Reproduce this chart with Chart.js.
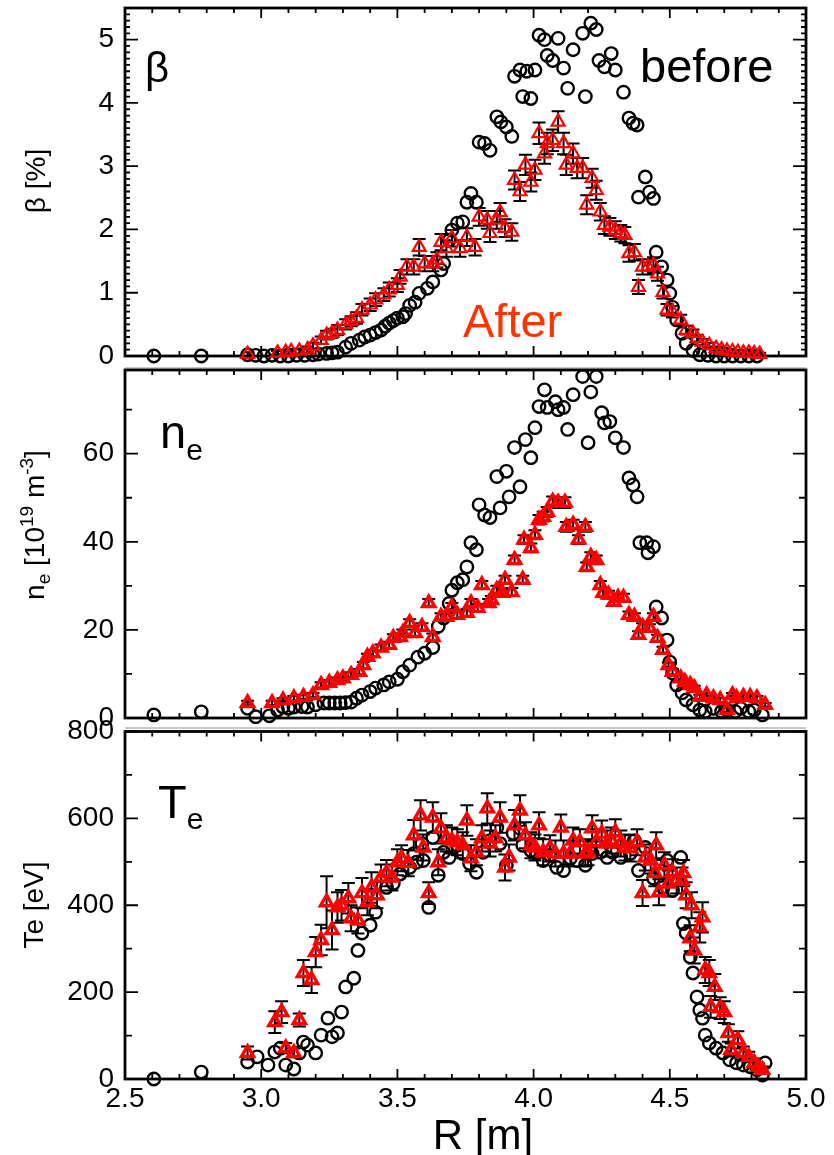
<!DOCTYPE html>
<html>
<head>
<meta charset="utf-8">
<script src="https://cdn.jsdelivr.net/npm/chart.js@4.4.1/dist/chart.umd.min.js"></script>
<style>
html,body{margin:0;padding:0;background:#fff;}
#wrap{position:relative;width:834px;height:1155px;overflow:hidden;}
#wrap canvas{position:absolute;left:0;top:0;}
</style>
</head>
<body>
<div id="wrap">
<canvas id="c1" width="834" height="1155"></canvas>
<canvas id="c2" width="834" height="1155"></canvas>
<canvas id="c3" width="834" height="1155"></canvas>
</div>
<script>
// ---------- tick labels ----------
const xTicks = [2.5, 3.0, 3.5, 4.0, 4.5, 5.0];
const betaTicks = [0, 1, 2, 3, 4, 5];
const neTicks = [0, 20, 40, 60];
const teTicks = [0, 200, 400, 600, 800];

// ---------- beta [%] ----------
const betaBeforeR = [2.606,2.78,2.95,2.98,3.01,3.04,3.07,3.10,3.13,3.16,
  3.19,3.21,3.24,3.26,3.28,3.31,3.33,3.36,3.38,3.40,
  3.42,3.44,3.455,3.47,3.485,3.50,3.52,3.53,3.545,3.565,
  3.58,3.61,3.63,3.66,3.67,3.69,3.70,3.72,3.74,3.755,
  3.77,3.79,3.80,3.82,3.84,3.865,3.88,3.90,3.92,3.93,
  3.95,3.96,3.975,3.99,4.005,4.02,4.04,4.05,4.07,4.09,
  4.11,4.125,4.145,4.18,4.19,4.21,4.23,4.24,4.26,4.285,
  4.30,4.33,4.35,4.365,4.38,4.385,4.41,4.425,4.44,4.45,
  4.47,4.49,4.50,4.51,4.525,4.545,4.56,4.585,4.61,4.64,
  4.67,4.70,4.73,4.76,4.79,4.82];
const betaBefore = [0,0,0.02,0.01,0,0.01,0,0,0.01,0.01,
  0.02,0.03,0.04,0.05,0.06,0.14,0.2,0.25,0.3,0.33,
  0.37,0.41,0.47,0.52,0.56,0.6,0.62,0.67,0.8,0.85,
  0.99,1.07,1.17,1.36,1.46,1.83,1.99,2.1,2.12,2.43,
  2.57,2.43,3.38,3.36,3.25,3.78,3.70,3.62,3.47,4.42,
  4.52,4.10,4.50,4.07,4.52,5.07,5.00,4.75,4.67,5.02,
  4.55,4.23,4.84,5.10,4.10,5.26,5.16,4.67,4.57,4.78,
  4.52,4.17,3.76,3.68,3.65,2.51,2.83,2.59,2.49,1.64,
  1.41,1.2,0.99,0.77,0.57,0.36,0.2,0.09,0.02,0.01,
  0,0,0,0,0,0];
const betaAfterR = [2.95,3.06,3.09,3.11,3.14,3.17,3.19,3.22,3.24,3.26,
  3.28,3.31,3.33,3.35,3.37,3.40,3.42,3.45,3.47,3.50,
  3.51,3.535,3.56,3.58,3.60,3.63,3.645,3.66,3.68,3.70,
  3.73,3.755,3.785,3.80,3.83,3.84,3.865,3.877,3.895,3.92,
  3.93,3.95,3.97,3.99,4.005,4.02,4.04,4.05,4.07,4.09,
  4.11,4.12,4.145,4.16,4.18,4.195,4.215,4.23,4.245,4.26,
  4.28,4.30,4.32,4.335,4.35,4.37,4.385,4.40,4.42,4.44,
  4.455,4.475,4.49,4.51,4.54,4.56,4.585,4.60,4.62,4.645,
  4.67,4.69,4.71,4.73,4.75,4.77,4.79,4.81,4.83];
const betaAfter = [0.03,0.05,0.06,0.07,0.08,0.10,0.16,0.25,0.33,0.36,
  0.41,0.50,0.55,0.60,0.73,0.81,0.89,0.97,1.05,1.12,
  1.25,1.41,1.41,1.72,1.46,1.46,1.52,1.80,1.70,1.86,
  1.70,1.88,1.72,2.20,2.15,1.94,2.15,2.27,2.02,1.96,
  2.78,2.60,3.02,2.75,2.94,3.52,3.20,3.36,3.41,3.70,
  3.36,3.02,3.20,2.97,2.97,2.39,2.81,2.62,2.28,2.07,
  2.04,1.99,1.94,1.91,1.62,1.64,1.09,1.41,1.41,1.44,
  1.30,1.01,0.73,0.70,0.57,0.41,0.36,0.28,0.22,0.17,
  0.12,0.10,0.08,0.07,0.06,0.05,0.05,0.04,0.03];
const betaAfterErr = [0.03,0.03,0.03,0.04,0.04,0.05,0.05,0.06,0.07,0.07,
  0.08,0.08,0.08,0.09,0.09,0.10,0.10,0.10,0.11,0.11,
  0.11,0.12,0.12,0.13,0.12,0.12,0.12,0.13,0.13,0.13,
  0.13,0.14,0.13,0.14,0.14,0.14,0.14,0.15,0.14,0.14,
  0.15,0.15,0.16,0.15,0.16,0.17,0.16,0.17,0.17,0.17,
  0.17,0.16,0.16,0.16,0.16,0.15,0.15,0.15,0.14,0.14,
  0.14,0.14,0.13,0.13,0.13,0.13,0.11,0.12,0.12,0.12,
  0.11,0.10,0.09,0.09,0.08,0.07,0.06,0.05,0.05,0.04,
  0.03,0.03,0.03,0.02,0.02,0.02,0.02,0.02,0.02];

// ---------- n_e [1e19 m^-3] ----------
const neBeforeR = [2.606,2.78,2.95,2.98,3.03,3.06,3.08,3.10,3.12,3.15,
  3.17,3.20,3.23,3.25,3.27,3.29,3.31,3.33,3.35,3.37,
  3.40,3.42,3.45,3.47,3.50,3.52,3.545,3.575,3.60,3.63,
  3.65,3.67,3.69,3.70,3.72,3.74,3.755,3.77,3.79,3.80,
  3.82,3.84,3.865,3.877,3.90,3.91,3.93,3.95,3.97,3.99,
  4.005,4.02,4.04,4.05,4.08,4.09,4.11,4.125,4.145,4.18,
  4.20,4.21,4.23,4.25,4.26,4.28,4.30,4.33,4.35,4.365,
  4.38,4.39,4.415,4.42,4.44,4.45,4.47,4.49,4.50,4.51,
  4.525,4.545,4.56,4.585,4.61,4.63,4.66,4.69,4.71,4.74,
  4.76,4.79,4.81,4.84];
const neBefore = [0.7,1.4,2.2,0.3,0.5,1.8,2.5,2.2,2.5,2.6,
  2.5,3.0,3.4,3.4,3.4,3.4,3.5,3.6,4.5,5.2,
  6.0,6.8,7.5,8.2,8.8,10.5,12.0,13.8,14.7,16.0,
  20.8,22.7,26.0,29.0,30.7,31.4,34.3,39.8,38.2,48.4,
  46.1,45.5,54.8,47.7,56.0,50.2,61.4,52.5,63.2,59.1,
  65.9,70.7,74.5,70.5,71.8,70.0,70.5,65.5,73.4,77.5,
  62.5,74.0,77.5,69.3,67.0,67.3,63.6,61.4,54.5,52.9,
  50.2,39.8,39.8,37.5,38.9,25.2,22.7,17.7,12.7,10.2,
  7.5,5.7,4.1,3.0,1.8,1.5,2.2,1.5,1.8,1.5,
  2.2,1.5,1.8,0.7];
const neAfterR = [2.95,3.04,3.08,3.12,3.155,3.19,3.22,3.25,3.28,3.30,
  3.33,3.36,3.375,3.39,3.41,3.44,3.47,3.485,3.51,3.52,
  3.545,3.565,3.59,3.615,3.63,3.66,3.68,3.70,3.72,3.755,
  3.77,3.795,3.81,3.835,3.845,3.865,3.885,3.895,3.92,3.93,
  3.96,3.965,3.99,4.005,4.02,4.035,4.05,4.07,4.09,4.115,
  4.12,4.145,4.165,4.19,4.195,4.21,4.23,4.245,4.255,4.275,
  4.295,4.31,4.33,4.35,4.37,4.385,4.40,4.425,4.44,4.455,
  4.475,4.495,4.51,4.54,4.555,4.575,4.59,4.61,4.635,4.66,
  4.685,4.71,4.73,4.745,4.77,4.795,4.82,4.85];
const neAfter = [3.4,3.4,4.0,4.5,4.8,5.2,7.5,8.0,8.6,9.0,
  9.8,10.5,12.0,13.9,14.7,16.0,16.6,18.2,18.4,19.3,
  21.6,19.3,20.7,26.1,18.4,23.0,23.0,25.2,23.4,23.9,
  26.1,25.0,30.2,26.1,26.8,29.1,28.4,31.4,28.6,35.9,
  31.4,40.5,38.6,41.6,45.0,45.7,46.8,49.1,48.9,48.9,
  43.4,43.9,40.5,43.4,34.3,36.6,35.9,30.2,28.4,28.0,
  26.4,27.3,27.3,23.4,23.0,18.9,20.7,20.5,23.0,18.2,
  15.5,12.0,10.5,9.0,8.2,7.5,6.8,4.8,5.2,4.5,
  4.1,1.8,5.2,4.5,4.8,4.8,4.5,3.0];
const neAfterErr = [0.5,0.5,0.5,0.5,0.5,0.5,0.6,0.6,0.6,0.6,
  0.6,0.6,0.7,0.7,0.7,0.7,0.7,0.8,0.8,0.8,
  0.8,0.8,0.8,0.9,0.8,0.8,0.8,0.9,0.8,0.8,
  0.9,0.9,0.9,0.9,0.9,0.9,0.9,0.9,0.9,1.0,
  0.9,1.0,1.0,1.0,1.1,1.1,1.1,1.2,1.2,1.2,
  1.1,1.1,1.0,1.1,1.0,1.0,1.0,0.9,0.9,0.9,
  0.9,0.9,0.9,0.8,0.8,0.8,0.8,0.8,0.8,0.7,
  0.7,0.6,0.6,0.6,0.5,0.5,0.5,0.5,0.5,0.5,
  0.5,0.4,0.5,0.5,0.5,0.5,0.5,0.4];

// ---------- Te [eV] ----------
const teBeforeR = [2.606,2.78,2.95,2.985,3.025,3.05,3.07,3.09,3.12,3.14,
  3.155,3.17,3.20,3.22,3.245,3.26,3.28,3.295,3.31,3.34,
  3.355,3.37,3.40,3.42,3.46,3.485,3.51,3.545,3.56,3.57,
  3.59,3.595,3.615,3.63,3.65,3.67,3.69,3.72,3.74,3.765,
  3.79,3.815,3.84,3.865,3.877,3.90,3.925,3.95,3.96,3.99,
  4.01,4.035,4.06,4.085,4.11,4.135,4.16,4.19,4.215,4.245,
  4.27,4.29,4.32,4.355,4.37,4.385,4.41,4.44,4.475,4.49,
  4.51,4.54,4.55,4.56,4.575,4.585,4.60,4.61,4.62,4.63,
  4.645,4.67,4.695,4.72,4.745,4.77,4.795,4.82,4.84,4.85];
const teBefore = [0,16,39,51,32,62,71,32,23,60,
  85,78,60,101,140,97,106,154,212,232,
  296,336,354,384,441,450,472,487,519,499,
  542,503,395,556,469,522,510,538,519,496,
  476,522,549,579,542,492,565,577,538,526,
  519,503,515,487,480,508,503,492,519,522,
  510,522,510,519,549,480,533,462,441,503,
  434,510,358,336,281,244,189,159,140,101,
  83,71,60,44,37,32,28,21,9,37];
const teAfterR = [2.95,3.05,3.075,3.09,3.12,3.14,3.155,3.185,3.20,3.22,
  3.24,3.26,3.28,3.295,3.32,3.33,3.355,3.37,3.39,3.405,
  3.425,3.44,3.46,3.48,3.50,3.515,3.54,3.56,3.585,3.595,
  3.615,3.63,3.65,3.66,3.68,3.70,3.72,3.74,3.755,3.77,
  3.79,3.81,3.83,3.84,3.86,3.877,3.895,3.91,3.93,3.95,
  3.97,3.99,4.005,4.02,4.035,4.06,4.08,4.10,4.11,4.135,
  4.145,4.17,4.19,4.20,4.215,4.23,4.25,4.27,4.285,4.30,
  4.32,4.335,4.355,4.38,4.40,4.41,4.43,4.445,4.45,4.46,
  4.48,4.495,4.51,4.525,4.545,4.55,4.56,4.575,4.58,4.59,
  4.61,4.62,4.63,4.645,4.65,4.665,4.685,4.70,4.715,4.725,
  4.75,4.77,4.79,4.81,4.825,4.84];
const teAfter = [60,131,154,71,60,136,244,228,292,320,
  407,343,395,400,416,370,365,428,407,441,
  423,464,474,464,499,508,497,561,607,533,
  428,602,499,577,554,549,545,538,595,508,
  522,554,623,542,554,602,487,510,584,618,
  561,538,533,584,522,531,519,579,519,519,
  549,545,519,522,577,545,565,542,549,568,
  542,533,531,545,428,510,503,474,538,430,
  492,450,476,457,457,474,423,324,400,296,
  349,372,251,244,166,212,163,154,106,67,
  90,60,51,37,28,21];
const teAfterErr = [15,25,25,12,10,15,30,30,35,35,
  60,45,35,35,35,30,30,35,30,35,
  30,30,30,30,30,30,30,35,35,30,
  25,35,30,35,30,30,30,30,35,30,
  30,30,35,30,30,35,30,30,35,35,
  30,30,30,30,30,30,30,30,30,30,
  30,30,30,30,30,30,30,30,30,30,
  30,30,30,30,30,30,30,30,30,30,
  30,30,30,30,30,30,30,30,30,30,
  35,35,30,30,25,30,25,25,20,15,
  20,15,12,10,8,8];

// ---------- drawing helpers ----------
const FONT = '"Liberation Sans", Arial, Helvetica, sans-serif';
Chart.defaults.font.family = FONT;

function pts(rs, vs) { return rs.map((r, i) => ({ x: r, y: vs[i] })); }

function drawRich(ctx, it) {
  ctx.save();
  ctx.translate(it.x, it.y);
  if (it.rot) ctx.rotate(-Math.PI / 2);
  ctx.fillStyle = it.color || '#000';
  ctx.textBaseline = 'alphabetic';
  ctx.textAlign = 'left';
  let w = 0;
  const runs = it.runs.map(r => {
    ctx.font = r.s + 'px ' + FONT;
    const m = ctx.measureText(r.t).width;
    w += m;
    return Object.assign({}, r, { w: m });
  });
  let x = it.align === 'center' ? -w / 2 : 0;
  runs.forEach(r => {
    ctx.font = r.s + 'px ' + FONT;
    ctx.fillText(r.t, x, r.dy || 0);
    x += r.w;
  });
  ctx.restore();
}

const frameTicks = {
  id: 'frameTicks',
  beforeDatasetsDraw(chart, args, o) {
    const ctx = chart.ctx, a = chart.chartArea;
    const xs = chart.scales.x, ys = chart.scales.y;
    ctx.save();
    ctx.strokeStyle = '#000';
    ctx.lineWidth = 1.8;
    ctx.beginPath();
    for (let k = 0; k <= 25; k++) {
      const v = 2.5 + k * 0.1;
      const L = (k % 5 === 0) ? 10 : 5;
      const px = xs.getPixelForValue(v);
      ctx.moveTo(px, a.bottom); ctx.lineTo(px, a.bottom - L);
      ctx.moveTo(px, a.top); ctx.lineTo(px, a.top + L);
    }
    const n = Math.round(ys.max / o.yMinor);
    for (let k = 0; k <= n; k++) {
      const v = k * o.yMinor;
      if (v > ys.max + 1e-9) break;
      const r = v / o.yMajor;
      const major = Math.abs(r - Math.round(r)) < 1e-6;
      const L = major ? 13 : o.minorLen;
      const py = ys.getPixelForValue(v);
      ctx.moveTo(a.left, py); ctx.lineTo(a.left + L, py);
      ctx.moveTo(a.right, py); ctx.lineTo(a.right - L, py);
    }
    ctx.stroke();
    ctx.lineWidth = 2.8;
    ctx.strokeRect(a.left, a.top, a.right - a.left, a.bottom - a.top);
    ctx.restore();
  }
};

const errorBars = {
  id: 'errorBars',
  beforeDatasetDraw(chart, args, o) {
    if (args.index !== 0 || !o.err) return;
    const ctx = chart.ctx, xs = chart.scales.x, ys = chart.scales.y;
    const ds = chart.data.datasets[0].data;
    ctx.save();
    ctx.strokeStyle = '#000';
    ctx.lineWidth = 2;
    ctx.beginPath();
    ds.forEach((p, i) => {
      const e = o.err[i];
      if (e === undefined) return;
      const px = xs.getPixelForValue(p.x);
      const y1 = ys.getPixelForValue(p.y + e), y2 = ys.getPixelForValue(p.y - e);
      ctx.moveTo(px, y1); ctx.lineTo(px, y2);
      ctx.moveTo(px - 6.5, y1); ctx.lineTo(px + 6.5, y1);
      ctx.moveTo(px - 6.5, y2); ctx.lineTo(px + 6.5, y2);
    });
    ctx.stroke();
    ctx.restore();
  }
};

const texts = {
  id: 'texts',
  afterDraw(chart, args, o) {
    const ctx = chart.ctx;
    (o.lines || []).forEach(l => {
      ctx.save(); ctx.strokeStyle = '#c8c8c8'; ctx.lineWidth = 2;
      ctx.beginPath(); ctx.moveTo(l.x1, l.y); ctx.lineTo(l.x2, l.y); ctx.stroke(); ctx.restore();
    });
    (o.items || []).forEach(it => drawRich(ctx, it));
  }
};

function makeChart(id, cfg) {
  return new Chart(document.getElementById(id), {
    type: 'scatter',
    data: {
      datasets: [
        { data: pts(cfg.aR, cfg.a), pointStyle: 'triangle', pointRadius: cfg.triR,
          pointBorderColor: '#ff0000', pointBackgroundColor: 'rgba(255,255,255,0)',
          pointBorderWidth: cfg.triW, borderColor: '#ff0000', showLine: false, clip: false },
        { data: pts(cfg.bR, cfg.b), pointStyle: 'circle', pointRadius: 6.2,
          pointBorderColor: '#000', pointBackgroundColor: 'rgba(0,0,0,0)',
          pointBorderWidth: 2.4, borderColor: '#000', showLine: false, clip: false }
      ]
    },
    options: {
      responsive: false, animation: false, events: [],
      layout: { padding: cfg.pad, autoPadding: false },
      scales: {
        x: {
          type: 'linear', min: 2.5, max: 5.0, display: cfg.showX,
          grid: { display: false, drawTicks: false }, border: { display: false },
          afterBuildTicks: s => { s.ticks = xTicks.map(v => ({ value: v })); },
          afterFit: s => { if (cfg.showX) { s.height = 76; } s.paddingLeft = 0; s.paddingRight = 0; },
          ticks: { font: { family: FONT, size: 28 }, color: '#000', padding: 3,
                   maxRotation: 0, autoSkip: false, callback: v => Number(v).toFixed(1) }
        },
        y: {
          type: 'linear', min: 0, max: cfg.yMax,
          grid: { display: false, drawTicks: false }, border: { display: false },
          afterBuildTicks: s => { s.ticks = cfg.yTicks.map(v => ({ value: v })); },
          afterFit: s => { s.width = 125; s.paddingTop = 0; s.paddingBottom = 0; },
          ticks: { font: { family: FONT, size: 28 }, color: '#000', padding: 11,
                   autoSkip: false, callback: v => String(v) }
        }
      },
      plugins: {
        legend: { display: false }, tooltip: { enabled: false },
        frameTicks: { yMinor: cfg.yMinor, yMajor: cfg.yMajor, minorLen: cfg.minorLen },
        errorBars: { err: cfg.err },
        texts: { items: cfg.texts, lines: cfg.lines || [] }
      }
    },
    plugins: [frameTicks, errorBars, texts]
  });
}

makeChart('c1', {
  aR: betaAfterR, a: betaAfter, err: betaAfterErr, bR: betaBeforeR, b: betaBefore,
  triR: 7.5, triW: 2.2,
  yMax: 5.5, yTicks: betaTicks, yMinor: 0.1, yMajor: 1, minorLen: 5,
  pad: { top: 8, right: 28, bottom: 799, left: 0 }, showX: false,
  lines: [{ x1: 125, x2: 806, y: 368 }],
  texts: [
    { x: 45, y: 181, rot: true, align: 'center', runs: [{ t: 'β [%]', s: 28 }] },
    { x: 145, y: 82, runs: [{ t: 'β', s: 42 }] },
    { x: 640, y: 82, runs: [{ t: 'before', s: 47 }] },
    { x: 463, y: 337, color: '#ff3300', runs: [{ t: 'After', s: 47 }] }
  ]
});

makeChart('c2', {
  aR: neAfterR, a: neAfter, err: neAfterErr, bR: neBeforeR, b: neBefore,
  triR: 7, triW: 3.4,
  yMax: 79, yTicks: neTicks, yMinor: 10, yMajor: 20, minorLen: 7,
  pad: { top: 370, right: 28, bottom: 437, left: 0 }, showX: false,
  lines: [{ x1: 125, x2: 806, y: 728 }],
  texts: [
    { x: 44, y: 525, rot: true, align: 'center', runs: [
      { t: 'n', s: 28 }, { t: 'e', s: 19, dy: 6 }, { t: ' [10', s: 28 },
      { t: '19', s: 19, dy: -11 }, { t: ' m', s: 28 }, { t: '-3', s: 19, dy: -11 }, { t: ']', s: 28 }] },
    { x: 160, y: 448, runs: [{ t: 'n', s: 47 }, { t: 'e', s: 30, dy: 12 }] }
  ]
});

makeChart('c3', {
  aR: teAfterR, a: teAfter, err: teAfterErr, bR: teBeforeR, b: teBefore,
  triR: 7, triW: 3.4,
  yMax: 800, yTicks: teTicks, yMinor: 100, yMajor: 200, minorLen: 7,
  pad: { top: 731.5, right: 28, bottom: 0, left: 0 }, showX: true,
  texts: [
    { x: 43, y: 905, rot: true, align: 'center', runs: [{ t: 'Te [eV]', s: 28 }] },
    { x: 158, y: 818, runs: [{ t: 'T', s: 47 }, { t: 'e', s: 30, dy: 11 }] },
    { x: 483, y: 1149, align: 'center', runs: [{ t: 'R [m]', s: 42 }] }
  ]
});
</script>
</body>
</html>
